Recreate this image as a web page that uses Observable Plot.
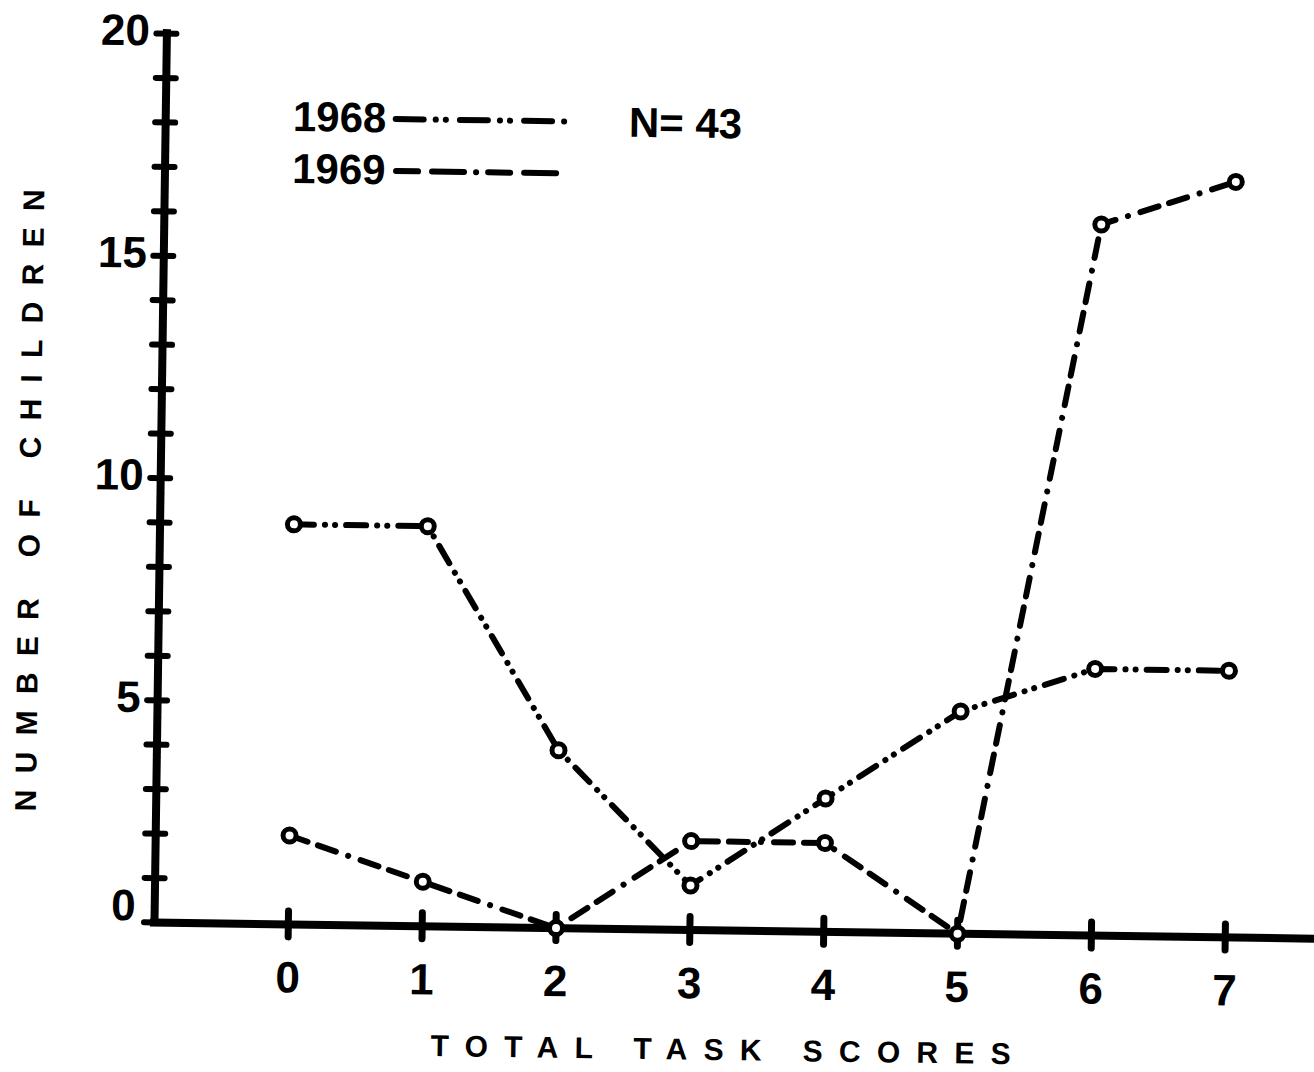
<!DOCTYPE html>
<html>
<head>
<meta charset="utf-8">
<script src="https://cdn.jsdelivr.net/npm/d3@7"></script>
<script src="https://cdn.jsdelivr.net/npm/@observablehq/plot@0.6"></script>
<style>
  html, body { margin: 0; padding: 0; background: #fff; overflow: hidden; }
  #chart svg { transform: rotate(0.8deg); transform-origin: 154px 922px; }
</style>
</head>
<body>
<div id="chart"></div>
<script>
// ---- data ----
const scores = [0, 1, 2, 3, 4, 5, 6, 7];
const children1968 = [9, 9, 4, 1, 3, 5, 6, 6];
const children1969 = [2, 1, 0, 2, 2, 0, 16, 17];
const yMinorTicks = d3.range(0, 21);
const yTickLabels = [0, 5, 10, 15, 20];
const seriesNames = ["1968", "1969"];
const nLabel = "N= 43";
const xTitle = "TOTAL TASK SCORES";
const yTitle = "NUMBER OF CHILDREN";

// ---- layout / style (not data) ----
const FONT = "Liberation Sans, Arial, sans-serif";
const DASH1968 = "20,11,0.1,10,0.1,11";
const DASH1969 = "19,11,19,13,0.1,13";
const LEG_DASH1968 = "28,12,0.1,10,0.1,14";
const LEG_DASH1969 = "22,14,32,12,0.1,12";
const TITLE_SPACING = "16.3px";
const legendLayout = {
  textX: -0.05,
  lineX1: [0.718, 0.726],
  lineX2: [2.026, 1.974],
  y: [18.15, 16.98],
  nX: 2.46, nY: 18.13
};

const rows1968 = scores.map((s, i) => ({score: s, n: children1968[i]}));
const rows1969 = scores.map((s, i) => ({score: s, n: children1969[i]}));
const legendRows = seriesNames.map((name, i) => ({
  name, x: legendLayout.textX, x1: legendLayout.lineX1[i], x2: legendLayout.lineX2[i], y: legendLayout.y[i]
}));

const textStyle = {fontFamily: FONT, fontWeight: "bold", fill: "black"};
const lineStyle = {stroke: "black", strokeWidth: 6, strokeLinecap: "round", strokeLinejoin: "round"};
const dotStyle = {r: 6.5, stroke: "black", strokeWidth: 5, fill: "white"};

const plot = Plot.plot({
  width: 1314,
  height: 1072,
  marginLeft: 154,
  marginRight: 0,
  marginTop: 33,
  marginBottom: 150,
  x: {domain: [-1, 7.666]},
  y: {domain: [0, 20]},
  style: {background: "white", color: "black", overflow: "visible"},
  marks: [
    // axes
    Plot.ruleY([0], {stroke: "black", strokeWidth: 8, strokeLinecap: "square"}),
    Plot.ruleX([-1], {stroke: "black", strokeWidth: 8, strokeLinecap: "square"}),
    Plot.axisY({ticks: yMinorTicks, tickSize: 20, dx: 10, stroke: "black", strokeWidth: 6, strokeLinecap: "round", fill: "none", label: null}),
    Plot.axisX({ticks: scores, tickSize: 26, dy: -13, stroke: "black", strokeWidth: 7, strokeLinecap: "round", fill: "none", label: null}),
    // tick labels
    Plot.text(yTickLabels.filter(d => d !== 0), {y: d => d, text: d => String(d), frameAnchor: "left", dx: -17, dy: -2, textAnchor: "end", lineAnchor: "middle", fontSize: 44, ...textStyle}),
    Plot.text(yTickLabels.filter(d => d === 0), {y: d => d, text: d => String(d), frameAnchor: "left", dx: -19, dy: -16, textAnchor: "end", lineAnchor: "middle", fontSize: 44, ...textStyle}),
    Plot.text(scores, {x: d => d, text: d => String(d), frameAnchor: "bottom", dy: 54, textAnchor: "middle", lineAnchor: "middle", fontSize: 44, ...textStyle}),
    // axis titles
    Plot.text([xTitle], {text: d => d, frameAnchor: "bottom", dx: -4, dy: 120, textAnchor: "middle", lineAnchor: "middle", fontSize: 30, ...textStyle}),
    Plot.text([yTitle], {text: d => d, frameAnchor: "left", dx: -130, dy: 16, rotate: -90, textAnchor: "middle", lineAnchor: "middle", fontSize: 30, ...textStyle}),
    // series
    Plot.line(rows1968, {x: "score", y: "n", ...lineStyle, strokeDasharray: DASH1968}),
    Plot.line(rows1969, {x: "score", y: "n", ...lineStyle, strokeDasharray: DASH1969}),
    Plot.dot(rows1968, {x: "score", y: "n", ...dotStyle}),
    Plot.dot(rows1969, {x: "score", y: "n", ...dotStyle}),
    // legend
    Plot.text(legendRows, {x: "x", y: "y", text: "name", textAnchor: "start", lineAnchor: "middle", fontSize: 42, ...textStyle}),
    Plot.link(legendRows.slice(0, 1), {x1: "x1", x2: "x2", y1: "y", y2: "y", ...lineStyle, strokeDasharray: LEG_DASH1968}),
    Plot.link(legendRows.slice(1, 2), {x1: "x1", x2: "x2", y1: "y", y2: "y", ...lineStyle, strokeDasharray: LEG_DASH1969}),
    Plot.text([nLabel], {x: legendLayout.nX, y: legendLayout.nY, text: d => d, textAnchor: "start", lineAnchor: "middle", fontSize: 42, ...textStyle})
  ]
});

plot.querySelectorAll("text").forEach(t => {
  if (t.textContent === xTitle || t.textContent === yTitle) {
    t.style.letterSpacing = TITLE_SPACING;
  }
});

document.getElementById("chart").appendChild(plot);
</script>
</body>
</html>
